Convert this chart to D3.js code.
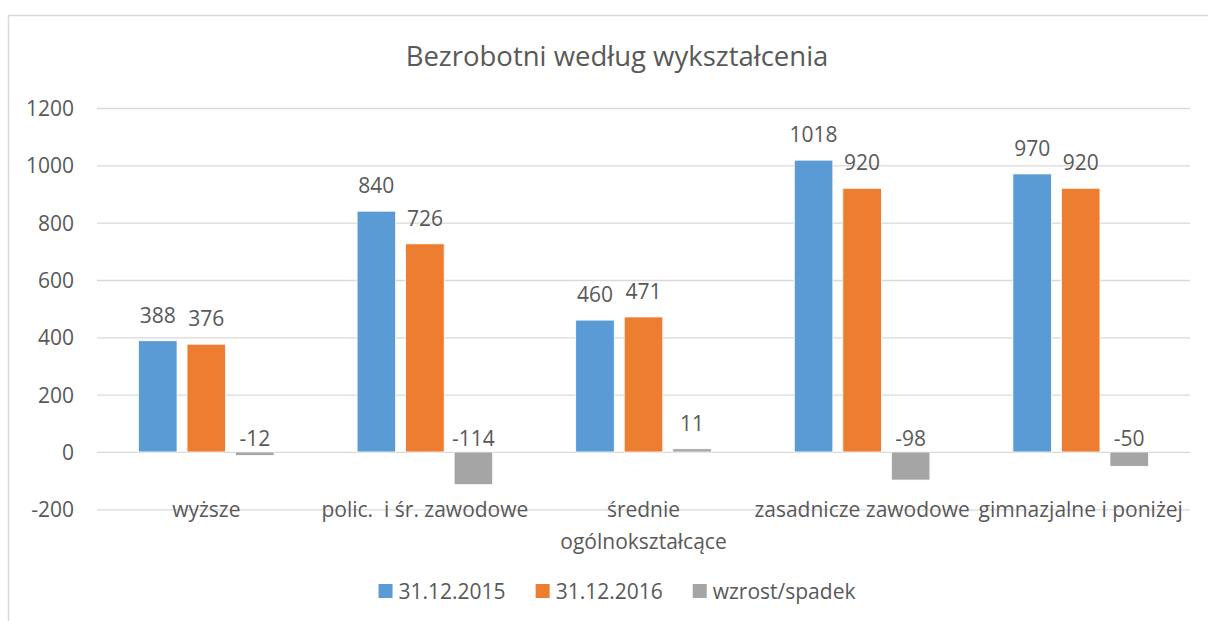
<!DOCTYPE html>
<html>
<head>
<meta charset="utf-8">
<script src="https://cdn.jsdelivr.net/npm/d3@7"></script>
<style>
  body { margin: 0; background: #fff; }
  text { font-family: "Open Sans", sans-serif; fill: #595959; }
</style>
</head>
<body>
<svg id="chart" width="1208" height="621"></svg>
<script>
// Data
const categories = ["wyższe", "polic.  i śr. zawodowe", "średnie ogólnokształcące", "zasadnicze zawodowe", "gimnazjalne i poniżej"];
const seriesNames = ["31.12.2015", "31.12.2016", "wzrost/spadek"];
const values2015 = [388, 840, 460, 1018, 970];
const values2016 = [376, 726, 471, 920, 920];
const change = [-12, -114, 11, -98, -50];
const yTicks = [-200, 0, 200, 400, 600, 800, 1000, 1200];
const colors = ["#5b9bd5", "#ed7d31", "#a5a5a5"];

const seriesValues = [values2015, values2016, change];
const fontSize = "21px";

const svg = d3.select("#chart");

// Chart frame
svg.append("rect")
    .attr("x", 8.5).attr("y", 15.5)
    .attr("width", 1230).attr("height", 640)
    .attr("fill", "none")
    .attr("stroke", "#d9d9d9")
    .attr("stroke-width", 1.5);

const chartCenter = 617;

// Title
svg.append("text")
    .attr("x", chartCenter)
    .attr("y", 66)
    .attr("text-anchor", "middle")
    .style("font-size", "27.5px")
    .text("Bezrobotni według wykształcenia");

// Scales
const x0 = d3.scaleBand()
    .domain(categories)
    .range([97, 1190]);

const groupPad = 41.5;
const x1 = d3.scaleBand()
    .domain(seriesNames)
    .range([groupPad, x0.bandwidth() - groupPad])
    .paddingInner(0.206);

const y = d3.scaleLinear()
    .domain([-200, 1200])
    .range([509.3, 108]);

// Gridlines and y tick labels
const yAxis = d3.axisLeft(y)
    .tickValues(yTicks)
    .tickFormat(d => String(d))
    .tickSize(-(1190 - 97))
    .tickPadding(24);

const gy = svg.append("g")
    .attr("transform", "translate(97,0)")
    .call(yAxis);
gy.select(".domain").remove();
gy.selectAll(".tick line")
    .attr("stroke", "#d9d9d9")
    .attr("stroke-width", 1.3);
gy.selectAll(".tick text")
    .attr("x", -23)
    .attr("dy", "0.35em")
    .style("font-size", fontSize)
    .style("font-family", "'Open Sans', sans-serif")
    .style("fill", "#595959");

// Bars
const groups = svg.selectAll(".cat")
    .data(categories)
    .enter().append("g")
    .attr("class", "cat")
    .attr("transform", d => `translate(${x0(d)},0)`);

groups.each(function(cat, ci) {
    const g = d3.select(this);
    const rows = seriesNames.map((s, si) => ({ s: s, v: seriesValues[si][ci], c: colors[si] }));

    g.selectAll("rect")
        .data(rows)
        .enter().append("rect")
        .attr("x", d => x1(d.s))
        .attr("y", d => y(Math.max(0, d.v)))
        .attr("width", x1.bandwidth())
        .attr("height", d => Math.abs(y(d.v) - y(0)))
        .attr("fill", d => d.c)
        .attr("stroke", "#fff")
        .attr("stroke-width", 0.75);

    g.selectAll("text.val")
        .data(rows)
        .enter().append("text")
        .attr("class", "val")
        .attr("x", d => x1(d.s) + x1.bandwidth() / 2)
        .attr("y", d => d.v >= 0 ? y(d.v) - 18 : y(0) - 6)
        .attr("text-anchor", "middle")
        .style("font-size", fontSize)
        .text(d => d.v);
});

// Category labels (wrapped where Excel wraps them)
const catLines = {
    "średnie ogólnokształcące": ["średnie", "ogólnokształcące"]
};
categories.forEach(cat => {
    const lines = catLines[cat] || [cat];
    const t = svg.append("text")
        .attr("x", x0(cat) + x0.bandwidth() / 2)
        .attr("y", 517)
        .attr("text-anchor", "middle")
        .style("font-size", fontSize)
        .style("white-space", "pre");
    lines.forEach((ln, i) => {
        t.append("tspan")
            .attr("x", x0(cat) + x0.bandwidth() / 2)
            .attr("dy", i === 0 ? 0 : 31.5)
            .text(ln);
    });
});

// Legend
const legend = svg.append("g");
let lx = 0;
seriesNames.forEach((name, i) => {
    const item = legend.append("g").attr("transform", `translate(${lx},0)`);
    item.append("rect")
        .attr("x", 0).attr("y", 584)
        .attr("width", 14).attr("height", 14)
        .attr("fill", colors[i]);
    const t = item.append("text")
        .attr("x", 20).attr("y", 599)
        .style("font-size", fontSize)
        .text(name);
    lx += 20 + t.node().getComputedTextLength() + 30;
});
const legendWidth = lx - 30;
legend.attr("transform", `translate(${chartCenter - legendWidth / 2},0)`);
</script>
</body>
</html>
